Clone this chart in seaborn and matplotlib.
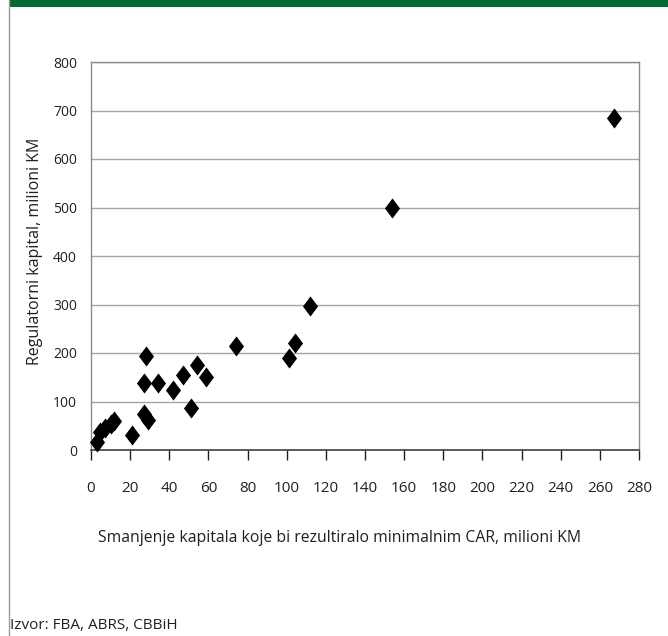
import matplotlib
matplotlib.use("Agg")
import matplotlib.pyplot as plt
from matplotlib.patches import Rectangle
from matplotlib.lines import Line2D
import seaborn as sns
import pandas as pd

# vrijednosti ocitane s grafikona (milioni KM)
smanjenje_kapitala = [267, 154, 112, 104, 101, 74, 28, 54, 59, 47, 42, 34, 27, 51, 27, 29,
                      21, 3, 4.5, 7, 10, 12]
regulatorni_kapital = [684, 499, 297, 220, 190, 214, 194, 176, 151, 155, 124, 138, 138, 87, 74, 62,
                       31, 17, 38, 46, 53, 60]

x_ticks = list(range(0, 281, 20))
y_ticks = list(range(0, 801, 100))

df = pd.DataFrame({"x": smanjenje_kapitala, "y": regulatorni_kapital})

sns.set_style("white")
plt.rcParams['font.family'] = ['Open Sans', 'DejaVu Sans']
text_col = "#231f20"

fig = plt.figure(figsize=(6.68, 6.36), dpi=100)
ax = fig.add_axes([91 / 668, 1 - 450 / 636, 548 / 668, 388 / 636])

diamond = [(0, 1), (0.75, 0), (0, -1), (-0.75, 0), (0, 1)]
sns.scatterplot(data=df, x="x", y="y", ax=ax, marker=diamond, s=210,
                color="black", edgecolor="black", linewidth=0, zorder=3, clip_on=False)

ax.set_xlim(0, 280)
ax.set_ylim(0, 800)
ax.set_xticks(x_ticks)
ax.set_yticks(y_ticks)
ax.yaxis.grid(True, color="#a6a6a6", linewidth=1)
ax.xaxis.grid(False)
ax.set_axisbelow(True)
ax.set_xlabel("")
ax.set_ylabel("")
ax.tick_params(axis="x", direction="out", length=7.5, width=1, color="#231f20",
               pad=15, labelsize=11, labelcolor=text_col, bottom=True)
ax.tick_params(axis="y", length=0, pad=10, labelsize=10, labelcolor=text_col)

for side in ["left", "top", "right"]:
    ax.spines[side].set_color("#8c8c8c")
    ax.spines[side].set_linewidth(1)
ax.spines["bottom"].set_color("#404040")
ax.spines["bottom"].set_linewidth(1.2)

fig.text(35 / 668, 1 - 251 / 636, "Regulatorni kapital, milioni KM", rotation=90,
         ha="center", va="center", fontsize=11.5, color=text_col)
fig.text(340 / 668, 1 - 538 / 636,
         "Smanjenje kapitala koje bi rezultiralo minimalnim CAR, milioni KM",
         ha="center", va="center", fontsize=11.3, color=text_col)
fig.text(10 / 668, 3 / 636, "Izvor: FBA, ABRS, CBBiH", ha="left", va="bottom",
         fontsize=11, color=text_col)

# zelena traka i okvir
fig.patches.append(Rectangle((9 / 668, 1 - 7 / 636), 1, 7 / 636, transform=fig.transFigure,
                             facecolor="#006a35", edgecolor="none", zorder=0))
fig.lines.append(Line2D([9 / 668, 9 / 668], [0, 1], transform=fig.transFigure,
                        color="#9a9a9a", linewidth=1))

fig.savefig("out.png", dpi=100)
